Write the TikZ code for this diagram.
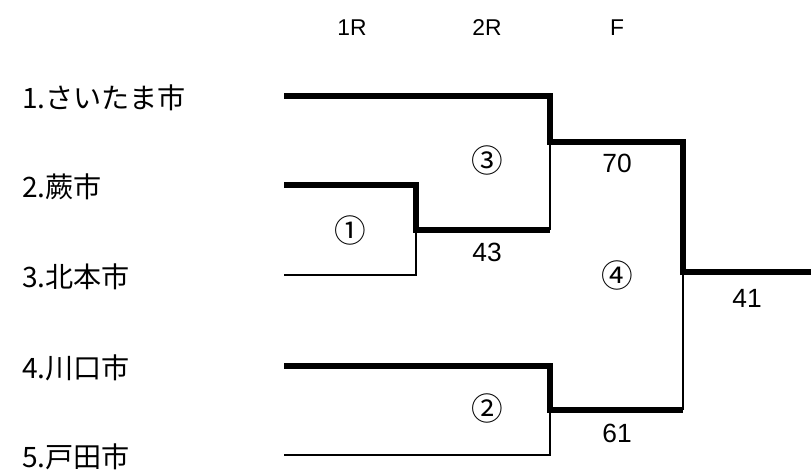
\documentclass[tikz,border=0pt]{standalone}
\usepackage{fontspec}
\setmainfont{Liberation Sans}
\newfontfamily\jpfont{Noto Sans CJK JP}
\tikzset{
  winline/.style={line width=3.4pt,line join=miter},
  loseline/.style={line width=1.1pt},
  teamlabel/.style={anchor=west,inner sep=0pt,font=\jpfont\fontsize{16}{16}\selectfont},
  roundlabel/.style={inner sep=0pt,font=\fontsize{13}{13}\selectfont},
  matchno/.style={inner sep=0pt,font=\jpfont\fontsize{18}{18}\selectfont},
  scorelabel/.style={inner sep=0pt,font=\fontsize{15}{15}\selectfont}
}
\begin{document}
\begin{tikzpicture}[x=0.02cm,y=-0.02cm]
\useasboundingbox (0,0) rectangle (811,470);
% round headings
\node[roundlabel] (r1) at (352,28) {1R};
\node[roundlabel] (r2) at (487,28) {2R};
\node[roundlabel] (rf) at (617,28) {F};
% teams
\node[teamlabel] (n1) at (22,98) {1.さいたま市};
\node[teamlabel] (n2) at (22,187) {2.蕨市};
\node[teamlabel] (n3) at (22,277) {3.北本市};
\node[teamlabel] (n4) at (22,368) {4.川口市};
\node[teamlabel] (n5) at (22,457) {5.戸田市};
\coordinate (t1) at (284,96);
\coordinate (t2) at (284,185);
\coordinate (t3) at (284,275);
\coordinate (t4) at (284,366);
\coordinate (t5) at (284,455);
% match points
\coordinate (m1) at (416,230);
\coordinate (m2) at (550,410);
\coordinate (m3) at (550,142);
\coordinate (m4) at (683,272);
\coordinate (champ) at (811,272);
% losers
\draw[loseline] (t3) -| (m1);
\draw[loseline] (t5) -| (m2);
\draw[loseline] (m3 |- m1) -- (m3);
\draw[loseline] (m4 |- m2) -- (m4);
% winners
\draw[winline] (t1) -| (m3) -| (m4) -- (champ);
\draw[winline] (t2) -| (m1) -- (m3 |- m1);
\draw[winline] (t4) -| (m2) -- (m4 |- m2);
% match numbers and scores
\node[matchno] (g1) at (350,230) {①};
\node[matchno] (g2) at (487,408) {②};
\node[matchno] (g3) at (487,160) {③};
\node[matchno] (g4) at (617,275) {④};
\node[scorelabel] (s1) at (487,252) {43};
\node[scorelabel] (s2) at (617,433) {61};
\node[scorelabel] (s3) at (617,163) {70};
\node[scorelabel] (s4) at (747,298) {41};
\end{tikzpicture}
\end{document}
